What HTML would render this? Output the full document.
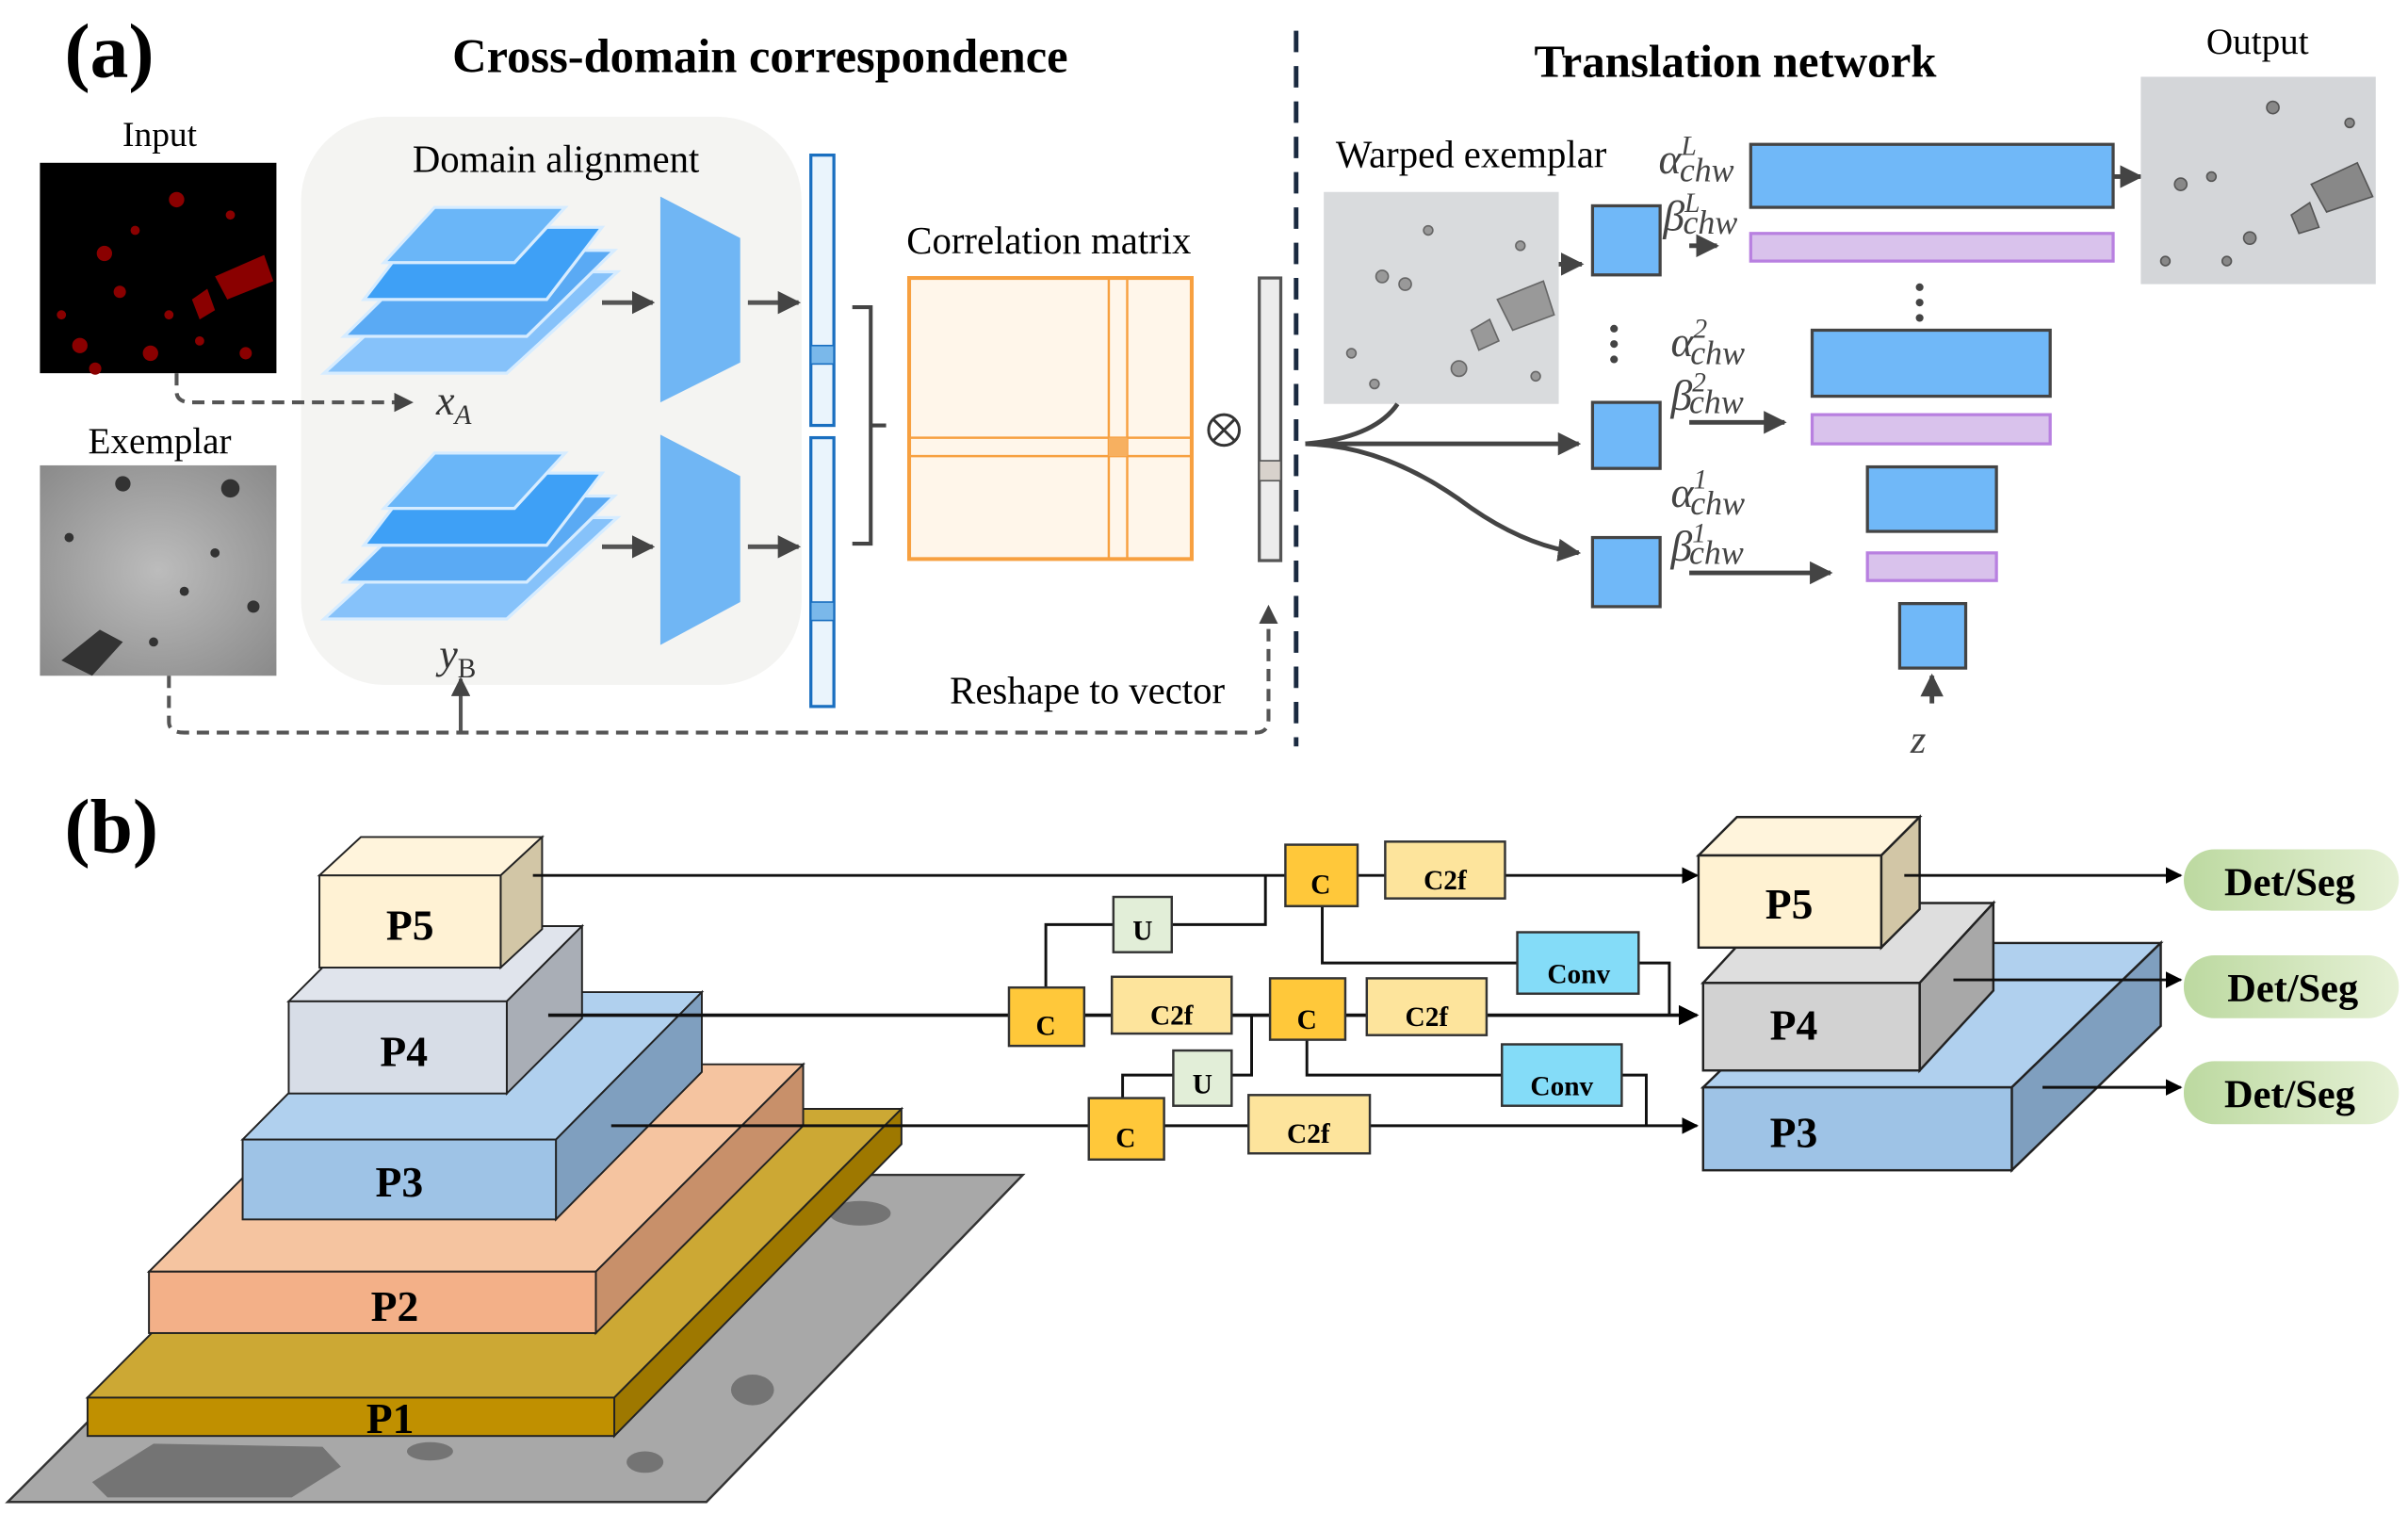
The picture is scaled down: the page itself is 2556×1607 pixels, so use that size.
<!DOCTYPE html>
<html><head><meta charset="utf-8"><style>
html,body{margin:0;padding:0;background:#fff;}
svg{display:block;}
text{font-family:"Liberation Serif",serif;}
</style></head><body>
<svg width="2556" height="1607" viewBox="0 0 1568 985.8" preserveAspectRatio="none" xmlns="http://www.w3.org/2000/svg">
<defs>
<marker id="ah" viewBox="0 0 10 10" refX="9" refY="5" markerWidth="5" markerHeight="5" orient="auto"><path d="M0,0L10,5L0,10z" fill="#444"/></marker>
<marker id="ak" viewBox="0 0 10 10" refX="9" refY="5" markerWidth="6" markerHeight="6" orient="auto"><path d="M0,0L10,5L0,10z" fill="#000"/></marker>
<radialGradient id="ex" cx="50%" cy="50%" r="70%"><stop offset="0" stop-color="#bcbcbc"/><stop offset="1" stop-color="#8a8a8a"/></radialGradient>
<linearGradient id="gr" x1="0" y1="0" x2="1" y2="0"><stop offset="0" stop-color="#bcd9a0"/><stop offset="1" stop-color="#e6f1d6"/></linearGradient>
</defs>

<!-- (a) -->
<text x="42" y="50" font-size="50" font-weight="bold">(a)</text>
<text x="495" y="47" font-size="31" font-weight="bold" text-anchor="middle">Cross-domain correspondence</text>
<text x="1130" y="50" font-size="30" font-weight="bold" text-anchor="middle">Translation network</text>
<line x1="844" y1="20" x2="844" y2="486" stroke="#1a2a40" stroke-width="3" stroke-dasharray="14,9"/>

<text x="104" y="95" font-size="23" text-anchor="middle">Input</text>
<rect x="26" y="106" width="154" height="137" fill="#000"/>
<g fill="#8a0000">
<polygon points="140,180 172,166 178,183 148,195"/><polygon points="125,195 135,188 140,202 130,208"/>
<circle cx="68" cy="165" r="5"/><circle cx="78" cy="190" r="4"/><circle cx="115" cy="130" r="5"/><circle cx="52" cy="225" r="5"/>
<circle cx="98" cy="230" r="5"/><circle cx="130" cy="222" r="3"/><circle cx="40" cy="205" r="3"/><circle cx="160" cy="230" r="4"/>
<circle cx="88" cy="150" r="3"/><circle cx="150" cy="140" r="3"/><circle cx="62" cy="240" r="4"/><circle cx="110" cy="205" r="3"/>
</g>
<text x="104" y="295" font-size="24" text-anchor="middle">Exemplar</text>
<rect x="26" y="303" width="154" height="137" fill="url(#ex)"/>
<g fill="#333"><polygon points="40,430 65,410 80,418 60,440"/><circle cx="80" cy="315" r="5"/><circle cx="150" cy="318" r="6"/><circle cx="45" cy="350" r="3"/><circle cx="120" cy="385" r="3"/><circle cx="165" cy="395" r="4"/><circle cx="100" cy="418" r="3"/><circle cx="140" cy="360" r="3"/></g>

<rect x="196" y="76" width="326" height="370" rx="55" fill="#f4f4f2"/>
<text x="362" y="112" font-size="25" text-anchor="middle">Domain alignment</text>
<g id="stk">
<polygon points="211,243 330,243 402,177 283,177" fill="#86c2fa" stroke="#d6ecff" stroke-width="2"/>
<polygon points="224,219 343,219 400,163 281,163" fill="#5aaaf4" stroke="#d6ecff" stroke-width="2"/>
<polygon points="237,195 356,195 392,148 273,148" fill="#3ea0f6" stroke="#d6ecff" stroke-width="2"/>
<polygon points="250,171 335,171 368,135 283,135" fill="#6ab6f8" stroke="#d6ecff" stroke-width="2"/>
</g>
<use href="#stk" transform="translate(0,160)"/>
<polygon points="430,128 482,155 482,236 430,262" fill="#70b6f4"/>
<polygon points="430,283 482,310 482,392 430,420" fill="#70b6f4"/>
<g stroke="#555" stroke-width="3" marker-end="url(#ah)">
<line x1="392" y1="197" x2="425" y2="197"/><line x1="487" y1="197" x2="520" y2="197"/>
<line x1="392" y1="356" x2="425" y2="356"/><line x1="487" y1="356" x2="520" y2="356"/>
</g>
<text x="284" y="270" font-size="27" font-style="italic" fill="#333">x<tspan font-size="18" dy="6">A</tspan></text>
<text x="286" y="435" font-size="27" font-style="italic" fill="#333">y<tspan font-size="18" dy="6" font-style="normal">B</tspan></text>
<rect x="528" y="101" width="15" height="176" fill="#eaf4fc" stroke="#1a6fc0" stroke-width="2"/>
<rect x="528" y="225" width="15" height="12" fill="#7ab8ea" stroke="#1a6fc0" stroke-width="1"/>
<rect x="528" y="285" width="15" height="175" fill="#eaf4fc" stroke="#1a6fc0" stroke-width="2"/>
<rect x="528" y="392" width="15" height="12" fill="#7ab8ea" stroke="#1a6fc0" stroke-width="1"/>
<path d="M555,200 H567 V354 H555 M567,277 H577" fill="none" stroke="#444" stroke-width="2.5"/>
<text x="683" y="165" font-size="25" text-anchor="middle">Correlation matrix</text>
<rect x="592" y="181" width="184" height="183" fill="#fff6ea" stroke="#f7a040" stroke-width="2.5"/>
<g stroke="#f7a040" stroke-width="1.5"><line x1="722" y1="181" x2="722" y2="364"/><line x1="734" y1="181" x2="734" y2="364"/><line x1="592" y1="285" x2="776" y2="285"/><line x1="592" y1="297" x2="776" y2="297"/></g>
<rect x="722" y="285" width="12" height="12" fill="#f7b060"/>
<circle cx="797" cy="280" r="10" fill="none" stroke="#333" stroke-width="1.8"/>
<path d="M790,273 L804,287 M804,273 L790,287" stroke="#333" stroke-width="1.8"/>
<rect x="820" y="181" width="14" height="184" fill="#ececec" stroke="#555" stroke-width="2"/>
<rect x="820" y="300" width="14" height="13" fill="#d8d2cc" stroke="#555" stroke-width="1"/>
<g fill="none" stroke="#555" stroke-width="2.5" stroke-dasharray="8,5">
<path d="M115,243 V255 Q115,262 125,262 H268" marker-end="url(#ah)"/>
<path d="M110,440 V470 Q110,477 120,477 H818 Q826,477 826,468 V395" marker-end="url(#ah)"/>
</g>
<line x1="300" y1="477" x2="300" y2="442" stroke="#555" stroke-width="2.5" marker-end="url(#ah)"/>
<text x="708" y="458" font-size="25" text-anchor="middle">Reshape to vector</text>

<!-- translation -->
<text x="958" y="109" font-size="25" text-anchor="middle">Warped exemplar</text>
<rect x="862" y="125" width="153" height="138" fill="#d9dbdd"/>
<g fill="#999" stroke="#666" stroke-width="1"><polygon points="975,195 1005,183 1012,205 985,215"/><polygon points="958,215 970,208 976,222 963,228"/><circle cx="900" cy="180" r="4"/><circle cx="915" cy="185" r="4"/><circle cx="930" cy="150" r="3"/><circle cx="950" cy="240" r="5"/><circle cx="880" cy="230" r="3"/><circle cx="990" cy="160" r="3"/><circle cx="895" cy="250" r="3"/><circle cx="1000" cy="245" r="3"/></g>
<g fill="#70b8f8" stroke="#444" stroke-width="2">
<rect x="1037" y="134" width="44" height="45"/><rect x="1037" y="262" width="44" height="43"/><rect x="1037" y="350" width="44" height="45"/>
<rect x="1140" y="94" width="236" height="41"/><rect x="1180" y="215" width="155" height="43"/><rect x="1216" y="304" width="84" height="42"/><rect x="1237" y="393" width="43" height="42"/>
</g>
<g fill="#d9c2ec" stroke="#b880e0" stroke-width="2">
<rect x="1140" y="152" width="236" height="18"/><rect x="1180" y="270" width="155" height="19"/><rect x="1216" y="360" width="84" height="18"/>
</g>
<g fill="none" stroke="#444" stroke-width="3">
<line x1="1015" y1="172" x2="1030" y2="172" marker-end="url(#ah)"/>
<line x1="850" y1="289" x2="1028" y2="289" marker-end="url(#ah)"/>
<path d="M850,289 Q895,285 910,263"/>
<path d="M850,289 Q900,290 950,325 Q990,355 1028,360" marker-end="url(#ah)"/>
<line x1="1100" y1="160" x2="1118" y2="160" marker-end="url(#ah)"/>
<line x1="1100" y1="275" x2="1162" y2="275" marker-end="url(#ah)"/>
<line x1="1100" y1="373" x2="1192" y2="373" marker-end="url(#ah)"/>
<line x1="1376" y1="115" x2="1394" y2="115" marker-end="url(#ah)"/>
<line x1="1258" y1="458" x2="1258" y2="440" marker-end="url(#ah)"/>
</g>
<g fill="#444"><circle cx="1051" cy="214" r="2.5"/><circle cx="1051" cy="224" r="2.5"/><circle cx="1051" cy="234" r="2.5"/><circle cx="1250" cy="187" r="2.5"/><circle cx="1250" cy="197" r="2.5"/><circle cx="1250" cy="207" r="2.5"/></g>
<g font-style="italic" fill="#444">
<text x="1080" y="113" font-size="28">α<tspan font-size="18" dy="-12">L</tspan><tspan font-size="22" dx="-11" dy="17">chw</tspan></text>
<text x="1083" y="150" font-size="28">β<tspan font-size="18" dy="-12">L</tspan><tspan font-size="22" dx="-11" dy="14">chw</tspan></text>
<text x="1088" y="232" font-size="28">α<tspan font-size="18" dy="-12">2</tspan><tspan font-size="22" dx="-11" dy="17">chw</tspan></text>
<text x="1088" y="267" font-size="28">β<tspan font-size="18" dy="-12">2</tspan><tspan font-size="22" dx="-11" dy="14">chw</tspan></text>
<text x="1088" y="330" font-size="28">α<tspan font-size="18" dy="-12">1</tspan><tspan font-size="22" dx="-11" dy="17">chw</tspan></text>
<text x="1088" y="365" font-size="28">β<tspan font-size="18" dy="-12">1</tspan><tspan font-size="22" dx="-11" dy="14">chw</tspan></text>
<text x="1244" y="490" font-size="26">z</text>
</g>
<text x="1470" y="35" font-size="24" text-anchor="middle">Output</text>
<rect x="1394" y="50" width="153" height="135" fill="#d4d6d9"/>
<g fill="#888" stroke="#555" stroke-width="1"><polygon points="1505,120 1535,106 1545,128 1515,138"/><polygon points="1492,140 1504,132 1510,148 1497,152"/><circle cx="1420" cy="120" r="4"/><circle cx="1440" cy="115" r="3"/><circle cx="1480" cy="70" r="4"/><circle cx="1465" cy="155" r="4"/><circle cx="1410" cy="170" r="3"/><circle cx="1530" cy="80" r="3"/><circle cx="1450" cy="170" r="3"/></g>

<!-- (b) -->
<text x="42" y="555" font-size="50" font-weight="bold">(b)</text>
<polygon points="5,978 460,978 666,765 218,765" fill="#a8a8a8" stroke="#333" stroke-width="1.5"/>
<g fill="#666" opacity="0.8"><polygon points="60,965 100,940 210,942 222,955 190,975 70,975"/><ellipse cx="560" cy="790" rx="20" ry="8"/><ellipse cx="490" cy="905" rx="14" ry="10"/><ellipse cx="420" cy="952" rx="12" ry="7"/><ellipse cx="280" cy="945" rx="15" ry="6"/></g>
<g stroke="#222" stroke-width="1.2">
<polygon points="57,910 400,910 587,722 244,722" fill="#cca834"/>
<polygon points="400,910 587,722 587,745 400,935" fill="#9e7800"/>
<rect x="57" y="910" width="343" height="25" fill="#c09000"/>
<polygon points="97,828 388,828 523,693 232,693" fill="#f5c4a0"/>
<polygon points="388,828 523,693 523,733 388,868" fill="#c8906a"/>
<rect x="97" y="828" width="291" height="40" fill="#f3b088"/>
<polygon points="158,742 362,742 457,646 253,646" fill="#b0d0ee"/>
<polygon points="362,742 457,646 457,698 362,794" fill="#7f9fbf"/>
<rect x="158" y="742" width="204" height="52" fill="#9ec3e6"/>
<polygon points="188,652 330,652 379,603 237,603" fill="#e0e4ec"/>
<polygon points="330,652 379,603 379,663 330,712" fill="#a9aeb6"/>
<rect x="188" y="652" width="142" height="60" fill="#d7dde7"/>
<polygon points="208,570 326,570 353,545 235,545" fill="#fff4dc"/>
<polygon points="326,570 353,545 353,605 326,630" fill="#d2c6a6"/>
<rect x="208" y="570" width="118" height="60" fill="#fff2d4"/>
</g>
<g font-size="28" font-weight="bold" text-anchor="middle">
<text x="267" y="612">P5</text><text x="263" y="694">P4</text><text x="260" y="779">P3</text><text x="257" y="860">P2</text><text x="254" y="933">P1</text>
</g>

<g fill="none" stroke="#111" stroke-width="1.8">
<line x1="347" y1="570" x2="1105" y2="570" marker-end="url(#ak)"/>
<line x1="357" y1="661" x2="1105" y2="661" stroke-width="2.2" marker-end="url(#ak)"/>
<line x1="398" y1="733" x2="1105" y2="733" marker-end="url(#ak)"/>
<path d="M763,602 H824 V570"/><path d="M725,602 H681 V643"/>
<path d="M861,590 V627 H988"/><path d="M1067,627 H1087 V661"/>
<path d="M802,700 H815 V661"/><path d="M764,700 H731 V715"/>
<path d="M851,677 V700 H978"/><path d="M1056,700 H1072 V733"/>
</g>
<g stroke="#333" stroke-width="1.5">
<rect x="837" y="550" width="47" height="40" fill="#ffc83a"/>
<rect x="902" y="548" width="78" height="37" fill="#fde49c"/>
<rect x="725" y="584" width="38" height="36" fill="#e2eed8"/>
<rect x="657" y="643" width="49" height="38" fill="#ffc83a"/>
<rect x="724" y="636" width="78" height="37" fill="#fde49c"/>
<rect x="827" y="637" width="49" height="40" fill="#ffc83a"/>
<rect x="890" y="637" width="78" height="37" fill="#fde49c"/>
<rect x="988" y="607" width="79" height="40" fill="#84dcf8"/>
<rect x="978" y="680" width="78" height="40" fill="#84dcf8"/>
<rect x="764" y="684" width="38" height="36" fill="#e2eed8"/>
<rect x="709" y="715" width="49" height="40" fill="#ffc83a"/>
<rect x="813" y="713" width="79" height="38" fill="#fde49c"/>
</g>
<g font-size="18" font-weight="bold" text-anchor="middle">
<text x="860" y="582">C</text><text x="941" y="579">C2f</text><text x="744" y="612">U</text>
<text x="681" y="674">C</text><text x="763" y="667">C2f</text><text x="851" y="670">C</text><text x="929" y="668">C2f</text>
<text x="1028" y="640">Conv</text><text x="1017" y="713">Conv</text><text x="783" y="712">U</text>
<text x="733" y="747">C</text><text x="852" y="744">C2f</text>
</g>

<g stroke="#222" stroke-width="1.5">
<polygon points="1109,708 1310,708 1407,614 1206,614" fill="#b0d0ee"/>
<polygon points="1310,708 1407,614 1407,668 1310,762" fill="#7f9fbf"/>
<rect x="1109" y="708" width="201" height="54" fill="#9ec3e6"/>
<polygon points="1109,640 1250,640 1298,588 1157,588" fill="#dedede"/>
<polygon points="1250,640 1298,588 1298,645 1250,697" fill="#a8a8a8"/>
<rect x="1109" y="640" width="141" height="57" fill="#d2d2d2"/>
<polygon points="1106,557 1225,557 1250,532 1131,532" fill="#fff4dc"/>
<polygon points="1225,557 1250,532 1250,592 1225,617" fill="#d2c6a6"/>
<rect x="1106" y="557" width="119" height="60" fill="#fff2d2"/>
</g>
<g font-size="28" font-weight="bold" text-anchor="middle">
<text x="1165" y="598">P5</text><text x="1168" y="677">P4</text><text x="1168" y="747">P3</text>
</g>
<g stroke="#111" stroke-width="1.8">
<line x1="1240" y1="570" x2="1420" y2="570" marker-end="url(#ak)"/>
<line x1="1272" y1="638" x2="1420" y2="638" marker-end="url(#ak)"/>
<line x1="1330" y1="708" x2="1420" y2="708" marker-end="url(#ak)"/>
</g>
<g fill="url(#gr)">
<rect x="1422" y="553" width="140" height="40" rx="20"/>
<rect x="1422" y="622" width="140" height="41" rx="20"/>
<rect x="1422" y="691" width="140" height="41" rx="20"/>
</g>
<g font-size="26" font-weight="bold" text-anchor="middle">
<text x="1491" y="583">Det/Seg</text><text x="1493" y="652">Det/Seg</text><text x="1491" y="721">Det/Seg</text>
</g>
</svg>
</body></html>
